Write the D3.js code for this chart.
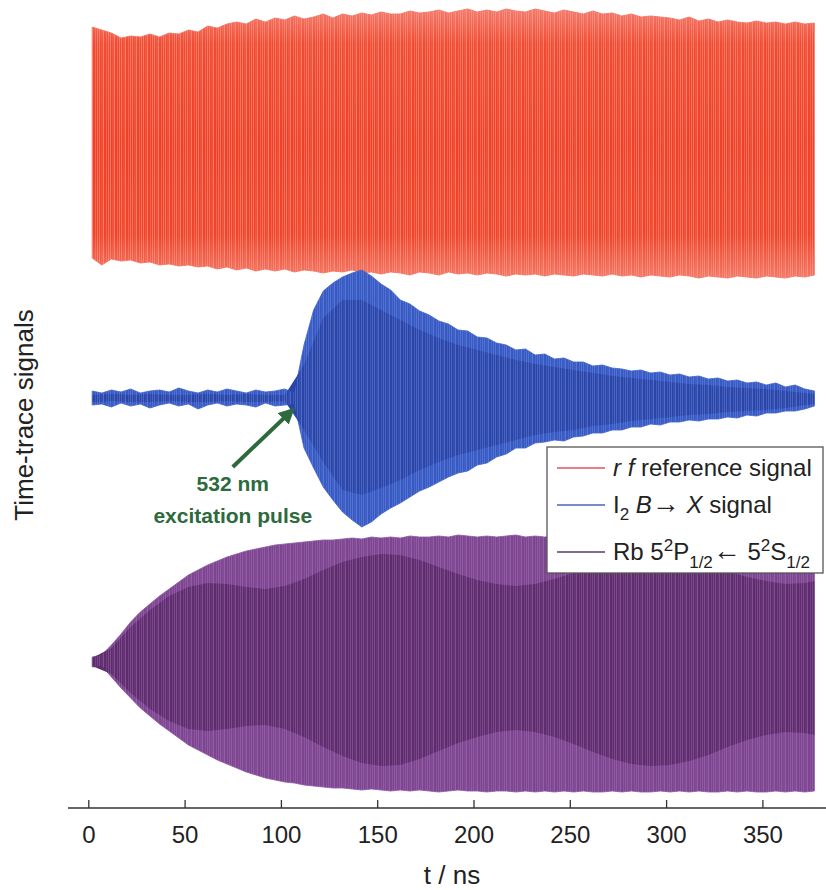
<!DOCTYPE html>
<html>
<head>
<meta charset="utf-8">
<script src="https://cdn.jsdelivr.net/npm/d3@7"></script>
<style>
  body { margin: 0; background: #fff; }
  text { font-family: "Liberation Sans", Arial, Helvetica, sans-serif; }
</style>
</head>
<body>
<svg id="chart" width="826" height="890"></svg>
<script>
// Sampling grids (ns): outer envelopes every 5 ns, inner (dense core) every 10 ns
const tGrid = d3.range(2, 378, 5);
const tCoarse = d3.range(2, 373, 10).concat([377]);

const tickValues = [0, 50, 100, 150, 200, 250, 300, 350];

// Vertical offsets of the three stacked traces (arb. units)
const offsets = { rf: 25.5, iodine: 0, rb: -26.5 };

// rf reference signal: upper / lower envelope
const rfUpper = [11.6, 11.3, 11.0, 10.5, 10.7, 10.6, 10.9, 10.6, 11.0, 10.9,
  11.3, 11.1, 11.7, 11.5, 11.9, 12.1, 11.9, 12.4, 12.1, 12.5,
  12.3, 12.7, 12.4, 12.6, 12.9, 12.5, 12.9, 12.7, 13.0, 12.8,
  13.1, 12.9, 12.9, 13.2, 13.0, 13.1, 13.3, 13.0, 13.2, 13.4,
  13.1, 13.3, 13.1, 13.4, 13.2, 13.1, 13.4, 13.2, 13.0, 13.3,
  13.1, 12.9, 13.2, 12.9, 13.0, 12.7, 12.9, 12.6, 12.7, 12.6,
  12.5, 12.3, 12.6, 12.2, 12.4, 12.1, 12.3, 12.1, 12.0, 12.2,
  12.0, 12.1, 11.9, 12.1, 11.9, 12.0];
const rfLower = [-11.5, -12.2, -11.6, -11.8, -11.7, -12.0, -11.9, -12.2, -12.1, -12.3,
  -12.2, -12.4, -12.3, -12.6, -12.4, -12.7, -12.5, -12.8, -12.6, -12.8,
  -12.6, -12.9, -12.7, -12.8, -13.0, -12.8, -12.9, -12.7, -13.0, -12.9,
  -13.1, -12.9, -13.0, -13.2, -12.9, -13.0, -13.2, -12.9, -13.1, -13.0,
  -13.2, -13.0, -13.1, -13.3, -13.1, -13.2, -13.1, -13.3, -13.1, -13.2,
  -13.3, -13.1, -13.2, -13.3, -13.1, -13.3, -13.2, -13.4, -13.2, -13.3,
  -13.4, -13.2, -13.3, -13.5, -13.3, -13.4, -13.5, -13.3, -13.4, -13.5,
  -13.3, -13.4, -13.5, -13.3, -13.4, -13.2];

// I2 B -> X signal: outer envelope
const iodineUpper = [0.7, 0.5, 0.8, 0.6, 0.9, 0.5, 0.7, 0.8, 0.6, 1.0,
  0.7, 0.5, 0.8, 0.6, 0.9, 0.7, 0.5, 0.8, 0.6, 0.7,
  0.9, 0.5, 5.3, 8.8, 10.7, 11.5, 12.1, 12.5, 12.8, 12.2,
  11.4, 10.8, 9.8, 9.4, 8.7, 8.3, 7.7, 7.4, 6.8, 6.7,
  6.1, 6.0, 5.5, 5.3, 4.8, 4.9, 4.3, 4.4, 3.9, 4.0,
  3.6, 3.6, 3.2, 3.3, 3.0, 2.9, 2.7, 2.8, 2.5, 2.6,
  2.3, 2.4, 2.1, 2.2, 1.9, 2.0, 1.7, 1.8, 1.5, 1.6,
  1.3, 1.5, 1.1, 1.3, 0.9, 0.7];
const iodineLower = [-0.7, -0.6, -0.9, -0.5, -0.8, -0.6, -1.0, -0.7, -0.5, -0.8,
  -0.6, -1.1, -0.7, -0.5, -0.8, -0.6, -0.7, -0.9, -0.5, -0.8,
  -0.7, -0.6, -5.0, -7.0, -8.9, -10.2, -11.4, -12.2, -12.9, -12.4,
  -11.6, -11.0, -10.5, -9.9, -9.3, -8.9, -8.4, -7.9, -7.5, -7.3,
  -6.7, -6.5, -5.9, -5.6, -5.0, -5.0, -4.5, -4.4, -4.2, -4.3,
  -3.9, -3.8, -3.5, -3.5, -3.2, -3.2, -2.9, -2.9, -2.6, -2.7,
  -2.4, -2.4, -2.2, -2.3, -2.1, -2.1, -1.9, -2.0, -1.7, -1.8,
  -1.5, -1.5, -1.3, -1.3, -1.1, -0.8];
// I2 signal: dense inner core
const iodineCoreUpper = [0.3, 0.4, 0.3, 0.4, 0.3, 0.3, 0.4, 0.3, 0.4, 0.3,
  0.3, 3.3, 8.0, 9.8, 9.8, 8.8, 7.8, 6.8, 6.0, 5.3,
  4.8, 4.3, 3.8, 3.4, 3.1, 2.8, 2.5, 2.2, 2.0, 1.8,
  1.6, 1.4, 1.3, 1.1, 1.0, 0.9, 0.7, 0.5, 0.4];
const iodineCoreLower = [-0.4, -0.3, -0.4, -0.4, -0.3, -0.4, -0.4, -0.3, -0.4, -0.4,
  -0.3, -3.2, -6.4, -9.2, -9.7, -9.0, -8.2, -7.2, -6.4, -5.7,
  -5.2, -4.7, -4.2, -3.7, -3.4, -3.2, -2.8, -2.6, -2.3, -2.1,
  -1.9, -1.7, -1.6, -1.4, -1.3, -1.2, -1.0, -0.7, -0.6];

// Rb 5P1/2 <- 5S1/2 signal: outer envelope
const rbUpper = [0.6, 0.8, 1.8, 2.9, 4.1, 5.1, 5.9, 6.7, 7.4, 8.1,
  8.8, 9.3, 9.8, 10.2, 10.6, 10.9, 11.2, 11.4, 11.6, 11.8,
  11.9, 12.0, 12.1, 12.2, 12.3, 12.3, 12.4, 12.5, 12.4, 12.6,
  12.5, 12.6, 12.5, 12.7, 12.6, 12.6, 12.7, 12.6, 12.8, 12.7,
  12.6, 12.7, 12.6, 12.7, 12.8, 12.6, 12.7, 12.6, 12.7, 12.6,
  12.6, 12.7, 12.6, 12.5, 12.6, 12.6, 12.7, 12.6, 12.5, 12.6,
  12.6, 12.5, 12.6, 12.6, 12.5, 12.6, 12.5, 12.6, 12.6, 12.5,
  12.6, 12.5, 12.6, 12.5, 12.6, 12.5];
const rbLower = [-0.4, -0.3, -1.4, -2.5, -3.5, -4.5, -5.3, -6.1, -6.8, -7.5,
  -8.2, -8.7, -9.2, -9.7, -10.1, -10.5, -10.9, -11.2, -11.5, -11.7,
  -11.9, -12.0, -12.2, -12.3, -12.4, -12.5, -12.5, -12.6, -12.7, -12.6,
  -12.7, -12.8, -12.7, -12.8, -12.7, -12.8, -12.9, -12.8, -12.7, -12.8,
  -12.8, -12.9, -12.8, -12.8, -12.9, -12.8, -12.9, -12.8, -12.9, -12.8,
  -12.9, -12.8, -12.9, -12.9, -12.8, -12.9, -12.8, -12.9, -12.9, -12.8,
  -12.9, -12.8, -12.9, -12.8, -12.9, -12.9, -12.8, -12.9, -12.8, -12.9,
  -12.9, -12.8, -12.9, -12.8, -12.9, -12.8];
// Rb signal: dense inner core (beating)
const rbCoreUpper = [0.5, 1.5, 3.6, 5.3, 6.7, 7.6, 8.0, 7.9, 7.6, 7.4,
  7.7, 8.4, 9.3, 10.1, 10.6, 10.9, 10.8, 10.3, 9.6, 8.9,
  8.3, 7.9, 7.7, 7.9, 8.4, 9.0, 9.7, 10.3, 10.7, 10.9,
  10.8, 10.5, 9.9, 9.2, 8.6, 8.2, 7.9, 8.0, 8.2];
const rbCoreLower = [-0.3, -1.1, -3.0, -4.6, -5.8, -6.6, -6.8, -6.6, -6.3, -6.2,
  -6.6, -7.4, -8.4, -9.3, -10.0, -10.3, -10.2, -9.6, -8.8, -8.0,
  -7.4, -6.9, -6.7, -6.9, -7.4, -8.1, -8.9, -9.6, -10.1, -10.3,
  -10.2, -9.8, -9.2, -8.4, -7.7, -7.2, -6.9, -7.0, -7.2];

// Legend entries
const legendColors = ["#e8525a", "#4a63bd", "#5d3a6c"];

// Annotation: excitation pulse arrival
const pulse = { tip: [106, -1.2], tail: [75, -6.9] };

const svg = d3.select("#chart");
const x = d3.scaleLinear().domain([0, 350]).range([88.3, 762.4]);
const y = d3.scaleLinear().domain([-41, 39]).range([808, 8]);

function bandPath(times, upper, lower, offset) {
  return d3.area()
    .x((d, i) => x(times[i]))
    .y0((d, i) => y(offset + lower[i]))
    .y1((d, i) => y(offset + upper[i]))(times);
}

// ---- definitions: gradients and streak patterns
const defs = svg.append("defs");
const rg = defs.append("linearGradient").attr("id", "rfGrad")
  .attr("x1", 0).attr("y1", 0).attr("x2", 0).attr("y2", 1);
[[0, "#f37a6c"], [0.13, "#f04b33"], [0.5, "#ef4028"], [0.84, "#ef452c"], [1, "#f27866"]]
  .forEach(([o, c]) => rg.append("stop").attr("offset", o).attr("stop-color", c));

function streaks(id, color, op) {
  const p = defs.append("pattern").attr("id", id)
    .attr("patternUnits", "userSpaceOnUse").attr("width", 11).attr("height", 20);
  [[0, 0.9], [2.5, 0.5], [4, 1], [7, 0.6], [9, 0.85]].forEach(([px, o]) =>
    p.append("rect").attr("x", px).attr("y", 0).attr("width", 0.9).attr("height", 20)
      .attr("fill", color).attr("opacity", o * op));
}
streaks("rfStreak", "#ffb4a0", 0.55);
streaks("iodineStreak", "#7d98ea", 0.5);
streaks("rbStreak", "#b383c4", 0.45);

// ---- rf reference trace
const rfPath = bandPath(tGrid, rfUpper, rfLower, offsets.rf);
svg.append("path").attr("d", rfPath).attr("fill", "url(#rfGrad)")
  .attr("stroke", "#f26a58").attr("stroke-width", 0.8);
svg.append("path").attr("d", rfPath).attr("fill", "url(#rfStreak)");

// ---- I2 trace
const ioPath = bandPath(tGrid, iodineUpper, iodineLower, offsets.iodine);
svg.append("path").attr("d", ioPath).attr("fill", "#3759c2")
  .attr("stroke", "#3e60c6").attr("stroke-width", 0.8);
svg.append("path").attr("d", bandPath(tCoarse, iodineCoreUpper, iodineCoreLower, offsets.iodine))
  .attr("fill", "#2a45a8");
svg.append("path").attr("d", ioPath).attr("fill", "url(#iodineStreak)");

// ---- Rb trace
const rbPath = bandPath(tGrid, rbUpper, rbLower, offsets.rb);
svg.append("path").attr("d", rbPath).attr("fill", "#7d4590")
  .attr("stroke", "#8a54a0").attr("stroke-width", 0.8);
svg.append("path").attr("d", bandPath(tCoarse, rbCoreUpper, rbCoreLower, offsets.rb))
  .attr("fill", "#5e2c6c");
svg.append("path").attr("d", rbPath).attr("fill", "url(#rbStreak)");

// ---- bottom axis
svg.append("line").attr("x1", 68).attr("x2", 826)
  .attr("y1", y(-41)).attr("y2", y(-41))
  .attr("stroke", "#333").attr("stroke-width", 1.3);
const axis = svg.append("g").attr("transform", `translate(0,${y(-41)})`)
  .call(d3.axisBottom(x).tickValues(tickValues).tickSizeInner(-8).tickSizeOuter(0).tickPadding(18));
axis.select(".domain").remove();
axis.selectAll(".tick line").attr("stroke", "#333").attr("stroke-width", 1.3);
axis.selectAll(".tick text").attr("font-size", 24).attr("fill", "#222")
  .style("font-family", "'Liberation Sans', Arial, sans-serif");

svg.append("text").attr("x", 452).attr("y", 884).attr("text-anchor", "middle")
  .attr("font-size", 26).attr("fill", "#222").text("t / ns");

svg.append("text").attr("transform", "translate(33,415) rotate(-90)")
  .attr("text-anchor", "middle").attr("font-size", 26).attr("fill", "#222")
  .text("Time-trace signals");

// ---- annotation
const green = "#2d6a3c";
defs.append("marker").attr("id", "arrowHead").attr("viewBox", "0 0 10 10")
  .attr("refX", 8).attr("refY", 5).attr("markerWidth", 4).attr("markerHeight", 4)
  .attr("orient", "auto").append("path").attr("d", "M0,0 L10,5 L0,10 Z").attr("fill", green);
svg.append("line")
  .attr("x1", x(pulse.tail[0])).attr("y1", y(pulse.tail[1]))
  .attr("x2", x(pulse.tip[0])).attr("y2", y(pulse.tip[1]))
  .attr("stroke", green).attr("stroke-width", 4).attr("marker-end", "url(#arrowHead)");
svg.append("text").attr("x", x(pulse.tail[0])).attr("y", 491).attr("text-anchor", "middle")
  .attr("font-size", 21).attr("font-weight", "bold").attr("fill", green).text("532 nm");
svg.append("text").attr("x", x(pulse.tail[0])).attr("y", 523).attr("text-anchor", "middle")
  .attr("font-size", 21).attr("font-weight", "bold").attr("fill", green).text("excitation pulse");

// ---- legend
const lg = svg.append("g");
lg.append("rect").attr("x", 547).attr("y", 447).attr("width", 276).attr("height", 126)
  .attr("fill", "#fff").attr("stroke", "#555").attr("stroke-width", 1.3);
const rowsY = [468, 505, 552];
rowsY.forEach((ry, i) => lg.append("line").attr("x1", 557).attr("x2", 605)
  .attr("y1", ry).attr("y2", ry).attr("stroke", legendColors[i]).attr("stroke-width", 1.4));

const fs = 24, sub = 17;
const t1 = lg.append("text").attr("x", 613).attr("y", 476).attr("font-size", fs).attr("fill", "#222");
t1.append("tspan").attr("font-style", "italic").text("r f");
t1.append("tspan").text(" reference signal");

const t2 = lg.append("text").attr("x", 613).attr("y", 513).attr("font-size", fs).attr("fill", "#222");
t2.append("tspan").text("I");
t2.append("tspan").attr("font-size", sub).attr("dy", 7).text("2");
t2.append("tspan").attr("dy", -7).text(" ");
t2.append("tspan").attr("font-style", "italic").text("B");
t2.append("tspan").attr("font-size", 28).text("\u2192");
t2.append("tspan").text(" ");
t2.append("tspan").attr("font-style", "italic").text("X");
t2.append("tspan").text(" signal");

const t3 = lg.append("text").attr("x", 613).attr("y", 560).attr("font-size", fs).attr("fill", "#222");
t3.append("tspan").text("Rb 5");
t3.append("tspan").attr("font-size", sub).attr("dy", -9).text("2");
t3.append("tspan").attr("dy", 9).text("P");
t3.append("tspan").attr("font-size", sub).attr("dy", 8).text("1/2");
t3.append("tspan").attr("dy", -8).attr("font-size", 28).text("\u2190");
t3.append("tspan").text(" 5");
t3.append("tspan").attr("font-size", sub).attr("dy", -9).text("2");
t3.append("tspan").attr("dy", 9).text("S");
t3.append("tspan").attr("font-size", sub).attr("dy", 8).text("1/2");
</script>
</body>
</html>
